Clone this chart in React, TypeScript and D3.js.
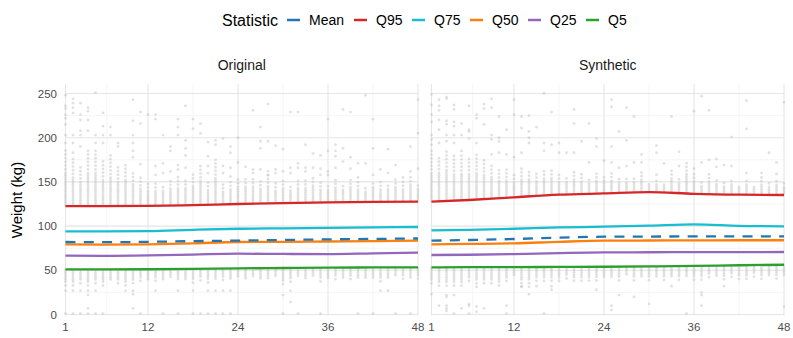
import React from 'react';
import * as d3 from 'd3';

// ---------- data ----------
const months: number[] = d3.range(1, 49);
const anchorMonths = [1, 6, 12, 18, 24, 30, 36, 42, 48];
const statNames = ['Mean', 'Q95', 'Q75', 'Q50', 'Q25', 'Q5'];
const statColors = ['#1f77b4', '#d62728', '#17becf', '#ff7f0e', '#9467bd', '#2ca02c'];
const panelTitles = ['Original', 'Synthetic'];
const xTicks = [1, 12, 24, 36, 48];
const xMinor = [6.5, 18, 30, 42];
const yTicks = [0, 50, 100, 150, 200, 250];
const yMinor = [25, 75, 125, 175, 225];

// Original statistics at anchor months
const origMean = [82, 81.8, 82.2, 83, 83.6, 84.3, 85, 85.5, 86];
const origQ95 = [122.7, 122.5, 122.8, 123.8, 125, 126, 126.8, 127.3, 127.6];
const origQ75 = [94.1, 94, 94.3, 95.8, 97, 97.5, 98, 98.5, 99];
const origQ50 = [79.4, 79, 79.4, 80.5, 82, 82.2, 82.6, 83, 83.5];
const origQ25 = [66.5, 66.3, 66.8, 67.8, 68.8, 68.5, 68.3, 69.2, 70];
const origQ5 = [51.1, 51, 51.2, 51.6, 52.2, 52.6, 53, 53.2, 53.4];

// Synthetic statistics at anchor months
const synMean = [83.5, 84.3, 85.4, 87, 88, 88.2, 88.3, 88.4, 88.4];
const synQ95 = [127.6, 129.5, 132.6, 135.5, 137, 138.5, 136.5, 135.5, 135.2];
const synQ75 = [95.2, 95.8, 97, 98.5, 99.3, 100.5, 102, 100.3, 99.7];
const synQ50 = [79.4, 79.8, 80.5, 82.2, 83.5, 83.7, 83.8, 84, 84];
const synQ25 = [67.3, 67.6, 68.4, 69.5, 70.3, 70.4, 70.5, 70.6, 70.7];
const synQ5 = [53.4, 53.5, 53.6, 53.8, 54, 54.4, 54.9, 55.7, 56.3];

// Observations above Q95: top of the dense column per month
const origDenseTop = [188, 176, 169, 187, 187, 174, 180, 169, 172, 162, 155, 150, 152, 148, 153, 157, 155, 162, 170, 151, 175, 149, 153, 155,
  155, 157, 153, 158, 150, 154, 148, 155, 152, 156, 150, 147, 153, 149, 155, 151, 146, 152, 150, 148, 154, 150, 157, 149];
const synDenseTop = [185, 181, 188, 180, 180, 178, 183, 175, 170, 165, 165, 160, 165, 165, 160, 165, 165, 160, 158, 162, 160, 156, 161, 158,
  160, 155, 157, 155, 162, 150, 152, 149, 165, 155, 172, 160, 151, 160, 155, 150, 153, 148, 152, 147, 152, 150, 151, 149];
// Observations below Q5: bottom of the dense column per month
const origDenseBottom = [31, 30, 33, 31, 35, 30, 37, 34, 31, 35, 38, 37, 38, 36, 40, 37, 36, 35, 38, 36, 37, 38, 37, 40,
  38, 40, 38, 38, 40, 33, 36, 40, 38, 40, 37, 38, 40, 38, 40, 38, 39, 38, 37, 39, 41, 40, 38, 40];
const synDenseBottom = [32, 30, 30, 30, 30, 37, 31, 33, 33, 30, 37, 42, 31, 31, 36, 38, 36, 38, 40, 38, 37, 36, 38, 39,
  40, 38, 42, 38, 40, 38, 40, 38, 40, 37, 40, 38, 38, 42, 40, 38, 42, 38, 40, 42, 38, 42, 40, 42];

// Sparse outliers per month (index = month - 1)
const origHighOut: number[][] = [
  [248, 236, 233, 226, 222, 215, 203, 194], [244, 239, 234, 228, 203, 194, 183], [239, 226, 220, 208, 203, 190], [234, 230, 220, 208],
  [251, 203, 194], [228, 213, 203, 194], [212, 203], [194, 190], [], [243, 219, 203, 194, 185, 178], [229, 216, 170], [226],
  [226, 221, 168, 158], [203, 171, 160], [190, 185, 162], [221, 212, 203, 169, 164], [236, 197, 188, 180, 166], [221, 210],
  [216, 205], [195, 179, 168, 160], [197, 192], [199, 168, 160], [190, 183, 166, 156], [200, 172],
  [167], [231, 164, 160], [212, 196, 188, 164], [238, 196, 162, 158], [191, 164, 160], [187, 162], [229, 166, 160], [229, 171, 166],
  [192, 166, 162], [182, 166], [180, 165, 158], [221, 185, 162, 158], [192, 185, 179, 166], [232, 188, 173], [229, 178, 165], [171, 155],
  [248, 171], [221, 188, 158], [164], [187, 160], [169], [155], [190, 162], [243, 205, 165],
];
const origLowOut: number[][] = [
  [27, 1], [27, 1], [27, 1], [27, 22, 7, 1], [27, 1], [1], [], [], [27], [27, 23, 7], [1], [],
  [27], [1], [], [27, 1], [], [27, 1], [1], [27, 1], [27, 1], [27, 1], [27, 1], [],
  [], [], [], [], [], [22, 1], [27, 14], [1], [], [], [1], [],
  [], [], [], [1], [], [1], [27], [27], [1], [], [1], [],
];
const synHighOut: number[][] = [
  [249, 237, 226, 218, 203, 198, 192], [243, 236, 231, 220, 209, 194], [246, 244, 219, 215, 203, 196], [237, 232, 218, 213, 203, 194],
  [216, 203, 185], [236, 209, 207, 199], [226, 222, 194], [238, 233, 215], [244, 234, 203, 198, 181], [224, 200, 196, 183], [209, 181], [243, 226, 178],
  [224, 211, 183], [225, 207, 200, 194], [212], [250, 194, 185], [229, 192], [194, 183], [183], [232, 216, 183], [196], [216, 172], [199, 190], [174],
  [243, 235, 190, 172], [207, 166], [234, 197, 168], [224, 172], [181, 172], [], [191, 183, 158], [171], [224], [184, 168], [], [230, 165],
  [247, 172], [231, 175], [176, 167], [169], [201, 168], [], [242, 210, 160], [], [160, 155], [183], [172, 159], [240],
];
const synLowOut: number[][] = [
  [23], [10], [22, 20, 10, 7, 4], [22, 1], [7], [12, 10, 1], [9, 3], [7], [], [], [10, 1], [],
  [32], [23], [32], [1], [32, 28], [], [], [], [], [], [28], [],
  [10, 5], [22], [], [20], [], [12], [], [], [32], [], [1], [],
  [25, 22, 10], [], [], [32], [], [], [], [], [], [], [], [9],
];

// ---------- layout ----------
const W = 793;
const H = 338;
const panelTop = 84;
const panelBottom = 315.5;
const panelX = [[65.5, 418], [431.5, 784]];

const yScale = d3.scaleLinear().domain([0, 250]).range([314.5, 93.5]);

type Panel = {
  title: string;
  stats: number[][];
  denseTop: number[];
  denseBottom: number[];
  highOut: number[][];
  lowOut: number[][];
};

const panels: Panel[] = [
  { title: panelTitles[0], stats: [origMean, origQ95, origQ75, origQ50, origQ25, origQ5], denseTop: origDenseTop, denseBottom: origDenseBottom, highOut: origHighOut, lowOut: origLowOut },
  { title: panelTitles[1], stats: [synMean, synQ95, synQ75, synQ50, synQ25, synQ5], denseTop: synDenseTop, denseBottom: synDenseBottom, highOut: synHighOut, lowOut: synLowOut },
];

const legendKeyX = [287, 354, 412, 470, 528, 586];

function PanelView({ p, i }: { p: Panel; i: number }) {
  const [x0, x1] = panelX[i];
  const x = d3.scaleLinear().domain([1, 48]).range([x0, x1]);
  const q95 = d3.scaleLinear().domain(anchorMonths).range(p.stats[1]);
  const q5 = d3.scaleLinear().domain(anchorMonths).range(p.stats[5]);
  const pts: { m: number; v: number }[] = [];
  months.forEach((m, k) => {
    const lo = q95(m) + 1;
    const top = p.denseTop[k];
    const mid = lo + (top - lo) * 0.55;
    for (let v = lo; v <= top; v += v < mid ? 2.6 : 4.2) pts.push({ m, v });
    const q = q5(m) - 1;
    const bot = p.denseBottom[k];
    const midL = q - (q - bot) * 0.6;
    for (let v = q; v >= bot; v -= v > midL ? 2.6 : 4.2) pts.push({ m, v });
    p.highOut[k].forEach((v) => pts.push({ m, v }));
    p.lowOut[k].forEach((v) => pts.push({ m, v }));
  });
  const line = d3.line<number>()
    .x((_, j) => x(anchorMonths[j]))
    .y((d) => yScale(d))
    .curve(d3.curveMonotoneX);
  const clipId = `clip${i}`;
  const order = [1, 2, 3, 4, 5, 0];
  return (
    <g>
      <defs>
        <clipPath id={clipId}>
          <rect x={x0 - 1.5} y={panelTop} width={x1 - x0 + 3} height={panelBottom - panelTop} />
        </clipPath>
      </defs>
      {yMinor.map((t) => (
        <line key={'ym' + t} x1={x0} x2={x1} y1={yScale(t)} y2={yScale(t)} stroke="#f0f0f0" strokeWidth={0.7} />
      ))}
      {xMinor.map((t) => (
        <line key={'xm' + t} x1={x(t)} x2={x(t)} y1={panelTop} y2={panelBottom} stroke="#f0f0f0" strokeWidth={0.7} />
      ))}
      {yTicks.map((t) => (
        <line key={'yM' + t} x1={x0} x2={x1} y1={yScale(t)} y2={yScale(t)} stroke="#e5e5e5" strokeWidth={1.1} />
      ))}
      {xTicks.map((t) => (
        <line key={'xM' + t} x1={x(t)} x2={x(t)} y1={panelTop} y2={panelBottom} stroke="#e5e5e5" strokeWidth={1.1} />
      ))}
      <g clipPath={`url(#${clipId})`}>
        {pts.map((d, j) => (
          <circle key={j} cx={x(d.m)} cy={yScale(d.v)} r={1.4} fill="#bcbcbc" fillOpacity={0.45} />
        ))}
        {order.map((si) => (
          <path
            key={si}
            d={line(p.stats[si]) || ''}
            fill="none"
            stroke={statColors[si]}
            strokeWidth={2.3}
            strokeDasharray={si === 0 ? '10,8.3' : undefined}
          />
        ))}
      </g>
      <text x={(x0 + x1) / 2} y={69.5} textAnchor="middle" fontSize={14} fill="#1a1a1a">{p.title}</text>
      {xTicks.map((t) => (
        <text key={'xl' + t} x={x(t)} y={331} textAnchor="middle" fontSize={11.5} fill="#4d4d4d">{t}</text>
      ))}
    </g>
  );
}

export default function App() {
  return (
    <svg
      width={W}
      height={H}
      viewBox={`0 0 ${W} ${H}`}
      style={{ position: 'absolute', left: 0, top: 0, background: '#ffffff' }}
      fontFamily="'Liberation Sans', Arial, sans-serif"
    >
      <rect x={0} y={0} width={W} height={H} fill="#ffffff" />
      <text x={222} y={25.5} fontSize={16} fill="#000">Statistic</text>
      {statNames.map((n, i) => (
        <g key={n}>
          <line x1={legendKeyX[i]} x2={legendKeyX[i] + 13} y1={20} y2={20} stroke={statColors[i]} strokeWidth={2.5} />
          <text x={legendKeyX[i] + 22} y={25} fontSize={14} fill="#000">{n}</text>
        </g>
      ))}
      {yTicks.map((t) => (
        <text key={t} x={57} y={yScale(t) + 4} textAnchor="end" fontSize={11.5} fill="#4d4d4d">{t}</text>
      ))}
      <text transform="translate(22,200) rotate(-90)" textAnchor="middle" fontSize={15} fill="#000">Weight (kg)</text>
      {panels.map((p, i) => (
        <PanelView key={i} p={p} i={i} />
      ))}
    </svg>
  );
}
